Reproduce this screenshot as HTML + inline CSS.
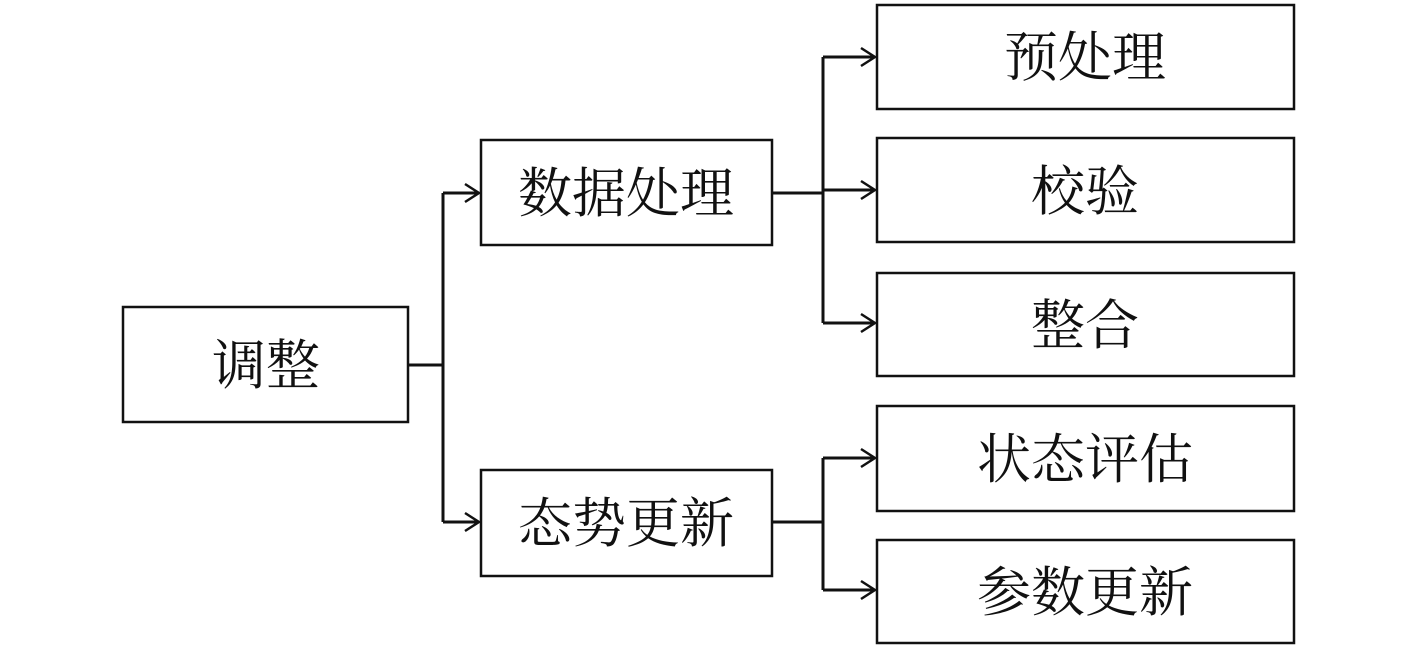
<!DOCTYPE html>
<html><head><meta charset="utf-8"><style>
body{margin:0;background:#fff;}
svg{display:block}
text{font-family:"Liberation Serif","Noto Serif CJK SC",serif;font-size:54px;fill:#111;text-anchor:middle;dominant-baseline:central}
</style></head><body>
<svg width="1417" height="650" xmlns="http://www.w3.org/2000/svg">
<g fill="#fff" stroke="#111" stroke-width="2.5">
<rect x="123" y="307" width="285" height="115"/>
<rect x="481" y="140" width="291" height="105"/>
<rect x="481" y="470" width="291" height="106"/>
<rect x="877" y="5" width="417" height="104"/>
<rect x="877" y="138" width="417" height="104"/>
<rect x="877" y="273" width="417" height="103"/>
<rect x="877" y="406" width="417" height="105"/>
<rect x="877" y="540" width="417" height="103"/>
</g>
<g fill="none" stroke="#111" stroke-width="3">
<path d="M408 365H443M443 193V522M443 193H479M443 522H479"/>
<path d="M772 193H823M823 57V323M823 57H875M823 190H875M823 323H875"/>
<path d="M772 522H823M823 458V590M823 458H875M823 590H875"/>
</g>
<g fill="none" stroke="#111" stroke-width="2.5">
<path d="M465 184L479 193L465 202M465 513L479 522L465 531"/>
<path d="M861 48L875 57L861 66M861 181L875 190L861 199M861 314L875 323L861 332M861 449L875 458L861 467M861 581L875 590L861 599"/>
</g>
<text x="266" y="366">调整</text>
<text x="626" y="194">数据处理</text>
<text x="626" y="524">态势更新</text>
<text x="1085" y="58">预处理</text>
<text x="1085" y="192">校验</text>
<text x="1085" y="326">整合</text>
<text x="1085" y="460">状态评估</text>
<text x="1085" y="593">参数更新</text>
</svg>
</body></html>
